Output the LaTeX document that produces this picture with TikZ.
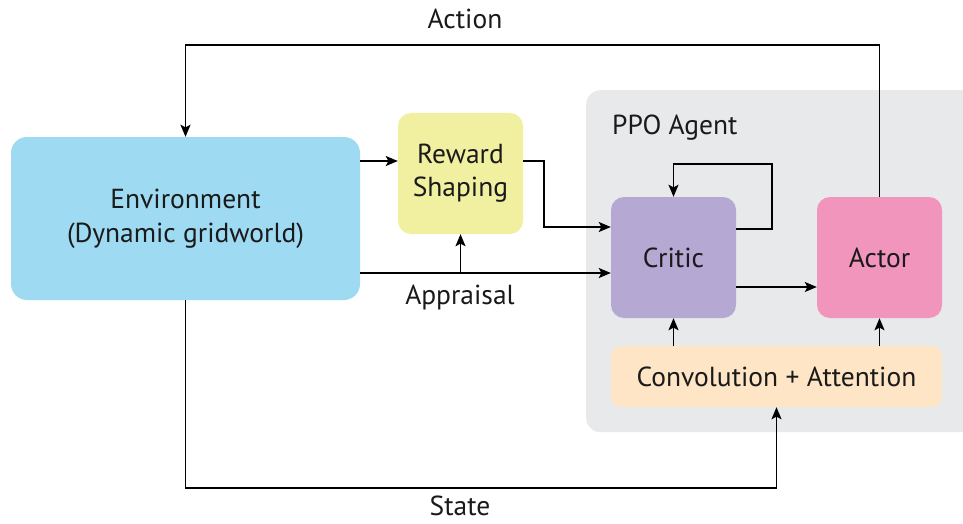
\documentclass[tikz,border=0pt]{standalone}
\usepackage{fontspec}
\setmainfont{PT Sans}
\usetikzlibrary{arrows.meta,calc}
\definecolor{envblue}{HTML}{9EDBF3}
\definecolor{rsyellow}{HTML}{F1EFA0}
\definecolor{agentgrey}{HTML}{E8E9EB}
\definecolor{criticpurple}{HTML}{B5A9D3}
\definecolor{actorpink}{HTML}{F195BD}
\definecolor{convpeach}{HTML}{FDE5C6}
\definecolor{ink}{HTML}{1A1A1A}
\tikzset{
  block/.style={draw=none, rounded corners=13pt, align=center, text=ink,
    font=\fontsize{27.5}{33}\selectfont, inner sep=0pt},
  lbl/.style={text=ink, font=\fontsize{27.5}{33}\selectfont, inner sep=0pt},
  arr/.style={draw=black, line width=1.5pt, -{Stealth[length=12pt,width=10pt,inset=2.5pt]}}
}
\begin{document}
\begin{tikzpicture}[x=1pt,y=-1pt]
\useasboundingbox (0,0) rectangle (963,524);

% agent container (runs past the right edge)
\begin{scope}
\clip (0,0) rectangle (963,524);
\node[fill=agentgrey, rounded corners=14pt, minimum width=390pt, minimum height=342pt,
      anchor=north west, inner sep=0pt] (agent) at (586,90) {};
\end{scope}
\node[lbl, anchor=west] (agentlbl) at (612,128) {PPO Agent};

% blocks
\node[block, fill=envblue, rounded corners=16pt, minimum width=349pt, minimum height=163pt]
  (env) at (185.5,218.5) {Environment\\[1pt](Dynamic gridworld)};
\node[block, fill=rsyellow, rounded corners=13pt, minimum width=125pt, minimum height=121pt]
  (rs) at (460.5,173.5) {Reward\\Shaping};
\node[block, fill=criticpurple, minimum width=125pt, minimum height=121pt]
  (critic) at (673.5,257.5) {Critic};
\node[block, fill=actorpink, minimum width=125pt, minimum height=121pt]
  (actor) at (879.5,257.5) {Actor};
\node[block, fill=convpeach, rounded corners=10pt, minimum width=331pt, minimum height=61pt]
  (conv) at (776.5,376.5) {Convolution + Attention};

% labels
\node[lbl] (actionlbl) at (465,19) {Action};
\node[lbl] (appraisallbl) at (460,297) {Appraisal};
\node[lbl, anchor=base] (statelbl) at (460,515) {State};

% action feedback to the environment
\draw[arr] (actor.north) -- ++(0,-152) -| (env.north);

% environment to reward shaping
\draw[arr] (env.east |- 0,161) -- (rs.west |- 0,161);

% reward shaping to critic
\draw[arr] (rs.east |- 0,161) -| ++(21,66) -- (critic.west |- 0,227);

% appraisal to critic, branching up to reward shaping
\coordinate (split) at (rs.south |- 0,273);
\draw[arr] (env.east |- 0,273) -- (critic.west |- 0,273);
\draw[arr] (split) -- (rs.south);

% critic self loop
\draw[arr] (critic.east |- 0,229) -| ++(36,-65) -| (critic.north);

% critic to actor
\draw[arr] (critic.east |- 0,287) -- (actor.west |- 0,287);

% feature extractor to critic and actor
\draw[arr] (conv.north -| critic.north) -- (critic.south);
\draw[arr] (conv.north -| actor.north) -- (actor.south);

% state to feature extractor
\draw[arr] (env.south) -- ++(0,188) -| (conv.south);
\end{tikzpicture}
\end{document}
